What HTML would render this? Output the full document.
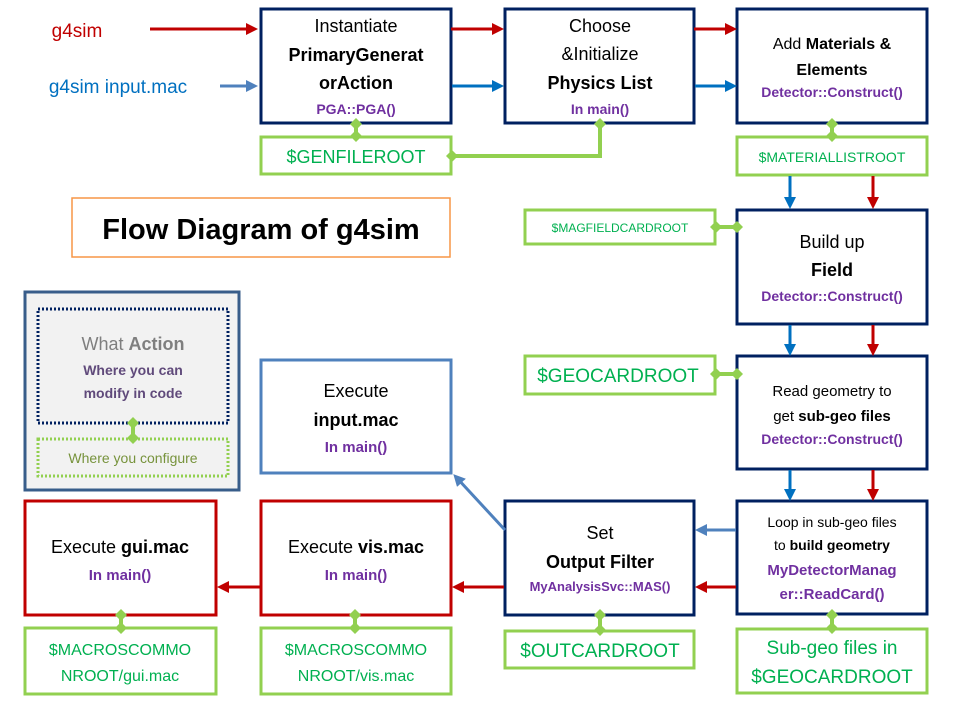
<!DOCTYPE html>
<html><head><meta charset="utf-8"><style>
html,body{margin:0;padding:0;background:#fff}
svg{display:block}
text{font-family:"Liberation Sans",sans-serif;text-anchor:middle}
.m{font-size:18px;fill:#000}
.b{font-weight:bold}
.p{font-size:14px;font-weight:bold;fill:#7030a0}
.g{fill:#00b050}
</style></head><body>
<svg width="960" height="720" viewBox="0 0 960 720" xmlns="http://www.w3.org/2000/svg">
<defs>
<marker id="ar" markerWidth="12" markerHeight="12" refX="8" refY="6" orient="auto" markerUnits="userSpaceOnUse"><path d="M0,0 L12,6 L0,12 Z" fill="#c00000"/></marker>
<marker id="ab" markerWidth="12" markerHeight="12" refX="8" refY="6" orient="auto" markerUnits="userSpaceOnUse"><path d="M0,0 L12,6 L0,12 Z" fill="#0070c0"/></marker>
<marker id="al" markerWidth="12" markerHeight="12" refX="8" refY="6" orient="auto" markerUnits="userSpaceOnUse"><path d="M0,0 L12,6 L0,12 Z" fill="#4f81bd"/></marker>
<marker id="d" markerWidth="12" markerHeight="12" refX="6" refY="6" orient="auto" markerUnits="userSpaceOnUse"><path d="M0,6 L6,0 L12,6 L6,12 Z" fill="#92d050"/></marker>
</defs>
<g fill="none" stroke-width="3">
<!-- boxes -->
<g stroke="#002060" fill="#fff">
<rect x="261" y="9" width="190" height="114"/>
<rect x="505" y="9" width="189" height="114"/>
<rect x="737" y="9" width="190" height="114"/>
<rect x="737" y="210" width="190" height="114"/>
<rect x="737" y="356" width="190" height="113"/>
<rect x="737" y="501" width="190" height="113"/>
<rect x="505" y="501" width="189" height="114"/>
</g>
<rect x="261" y="360" width="190" height="113" stroke="#4f81bd" fill="#fff"/>
<g stroke="#c00000" fill="#fff">
<rect x="25" y="501" width="191" height="114"/>
<rect x="261" y="501" width="190" height="114"/>
</g>
<g stroke="#92d050" fill="#fff">
<rect x="261" y="137" width="190" height="37"/>
<rect x="737" y="137" width="190" height="38"/>
<rect x="525" y="210" width="190" height="34"/>
<rect x="525" y="356" width="190" height="38"/>
<rect x="505" y="631" width="189" height="37"/>
<rect x="737" y="629" width="190" height="64"/>
<rect x="25" y="628" width="191" height="66"/>
<rect x="261" y="628" width="190" height="66"/>
</g>
<rect x="72" y="198" width="378" height="59" stroke="#f79646" stroke-width="1.5" fill="#fff"/>
<rect x="25" y="292" width="214" height="198" stroke="#385d8a" fill="#f2f2f2"/>
<rect x="38" y="309" width="190" height="114" stroke="#002060" stroke-dasharray="2,2"/>
<rect x="38" y="439" width="190" height="37" stroke="#92d050" stroke-dasharray="2,2"/>
<!-- arrows -->
<g stroke="#c00000">
<line x1="150" y1="29" x2="254" y2="29" marker-end="url(#ar)"/>
<line x1="451" y1="29" x2="500" y2="29" marker-end="url(#ar)"/>
<line x1="694" y1="29" x2="733" y2="29" marker-end="url(#ar)"/>
<line x1="873" y1="176" x2="873" y2="205" marker-end="url(#ar)"/>
<line x1="873" y1="325" x2="873" y2="352" marker-end="url(#ar)"/>
<line x1="873" y1="470" x2="873" y2="497" marker-end="url(#ar)"/>
<line x1="736" y1="587" x2="699" y2="587" marker-end="url(#ar)"/>
<line x1="504" y1="587" x2="456" y2="587" marker-end="url(#ar)"/>
<line x1="260" y1="587" x2="221" y2="587" marker-end="url(#ar)"/>
</g>
<g stroke="#0070c0">
<line x1="452" y1="86" x2="500" y2="86" marker-end="url(#ab)"/>
<line x1="695" y1="86" x2="733" y2="86" marker-end="url(#ab)"/>
<line x1="790" y1="176" x2="790" y2="205" marker-end="url(#ab)"/>
<line x1="790" y1="325" x2="790" y2="352" marker-end="url(#ab)"/>
<line x1="790" y1="470" x2="790" y2="497" marker-end="url(#ab)"/>
</g>
<g stroke="#4f81bd">
<line x1="220" y1="86" x2="254" y2="86" marker-end="url(#al)"/>
<line x1="736" y1="530" x2="699" y2="530" marker-end="url(#al)"/>
<line x1="505" y1="530" x2="456" y2="477" marker-end="url(#al)"/>
</g>
<!-- green connectors -->
<g stroke="#92d050" stroke-width="4">
<polyline points="356,124 356,136" marker-start="url(#d)" marker-end="url(#d)"/>
<polyline points="600,124 600,156 452,156" marker-start="url(#d)" marker-end="url(#d)"/>
<polyline points="832,124 832,136" marker-start="url(#d)" marker-end="url(#d)"/>
<polyline points="716,227 737,227" marker-start="url(#d)" marker-end="url(#d)"/>
<polyline points="716,374 737,374" marker-start="url(#d)" marker-end="url(#d)"/>
<polyline points="600,615 600,630" marker-start="url(#d)" marker-end="url(#d)"/>
<polyline points="832,615 832,628" marker-start="url(#d)" marker-end="url(#d)"/>
<polyline points="121,615 121,628" marker-start="url(#d)" marker-end="url(#d)"/>
<polyline points="355,615 355,628" marker-start="url(#d)" marker-end="url(#d)"/>
<polyline points="133,423 133,438" marker-start="url(#d)" marker-end="url(#d)"/>
</g>
</g>
<!-- text -->
<text x="77" y="37" style="font-size:19px;fill:#c00000">g4sim</text>
<text x="118" y="93" style="font-size:19px;fill:#0070c0">g4sim input.mac</text>
<text x="356" y="32" class="m">Instantiate</text>
<text x="356" y="61" class="m b">PrimaryGenerat</text>
<text x="356" y="89" class="m b">orAction</text>
<text x="356" y="114" class="p">PGA::PGA()</text>
<text x="600" y="32" class="m">Choose</text>
<text x="600" y="60" class="m">&amp;Initialize</text>
<text x="600" y="89" class="m b">Physics List</text>
<text x="600" y="114" class="p">In main()</text>
<text x="832" y="49" style="font-size:16px">Add <tspan font-weight="bold">Materials &amp;</tspan></text>
<text x="832" y="75" style="font-size:16px;font-weight:bold">Elements</text>
<text x="832" y="97" class="p">Detector::Construct()</text>
<text x="356" y="163" class="g" style="font-size:18px">$GENFILEROOT</text>
<text x="832" y="162" class="g" style="font-size:14px">$MATERIALLISTROOT</text>
<text x="261" y="239" style="font-size:29px;font-weight:bold;fill:#000">Flow Diagram of g4sim</text>
<text x="620" y="232" class="g" style="font-size:12px">$MAGFIELDCARDROOT</text>
<text x="832" y="248" class="m">Build up</text>
<text x="832" y="276" class="m b">Field</text>
<text x="832" y="301" class="p">Detector::Construct()</text>
<text x="618" y="382" class="g" style="font-size:19px">$GEOCARDROOT</text>
<text x="832" y="396" style="font-size:15px">Read geometry to</text>
<text x="832" y="421" style="font-size:15px">get <tspan font-weight="bold">sub-geo files</tspan></text>
<text x="832" y="444" class="p">Detector::Construct()</text>
<text x="832" y="527" style="font-size:14px">Loop in sub-geo files</text>
<text x="832" y="550" style="font-size:14px">to <tspan font-weight="bold">build geometry</tspan></text>
<text x="832" y="575" class="p" style="font-size:15px">MyDetectorManag</text>
<text x="832" y="599" class="p" style="font-size:15px">er::ReadCard()</text>
<text x="600" y="539" class="m">Set</text>
<text x="600" y="568" class="m b">Output Filter</text>
<text x="600" y="591" class="p" style="font-size:13px">MyAnalysisSvc::MAS()</text>
<text x="600" y="657" class="g" style="font-size:19px">$OUTCARDROOT</text>
<text x="832" y="654" class="g" style="font-size:19px">Sub-geo files in</text>
<text x="832" y="683" class="g" style="font-size:19px">$GEOCARDROOT</text>
<text x="356" y="397" class="m">Execute</text>
<text x="356" y="426" class="m b">input.mac</text>
<text x="356" y="452" class="p" style="font-size:15px">In main()</text>
<text x="120" y="553" class="m">Execute <tspan font-weight="bold">gui.mac</tspan></text>
<text x="120" y="580" class="p" style="font-size:15px">In main()</text>
<text x="356" y="553" class="m">Execute <tspan font-weight="bold">vis.mac</tspan></text>
<text x="356" y="580" class="p" style="font-size:15px">In main()</text>
<text x="120" y="655" class="g" style="font-size:16px">$MACROSCOMMO</text>
<text x="120" y="681" class="g" style="font-size:16px">NROOT/gui.mac</text>
<text x="356" y="655" class="g" style="font-size:16px">$MACROSCOMMO</text>
<text x="356" y="681" class="g" style="font-size:16px">NROOT/vis.mac</text>
<text x="133" y="350" style="font-size:18px;fill:#7f7f7f">What <tspan font-weight="bold">Action</tspan></text>
<text x="133" y="375" style="font-size:14px;font-weight:bold;fill:#604a7b">Where you can</text>
<text x="133" y="398" style="font-size:14px;font-weight:bold;fill:#604a7b">modify in code</text>
<text x="133" y="463" style="font-size:14px;fill:#77933c">Where you configure</text>
</svg>
</body></html>
